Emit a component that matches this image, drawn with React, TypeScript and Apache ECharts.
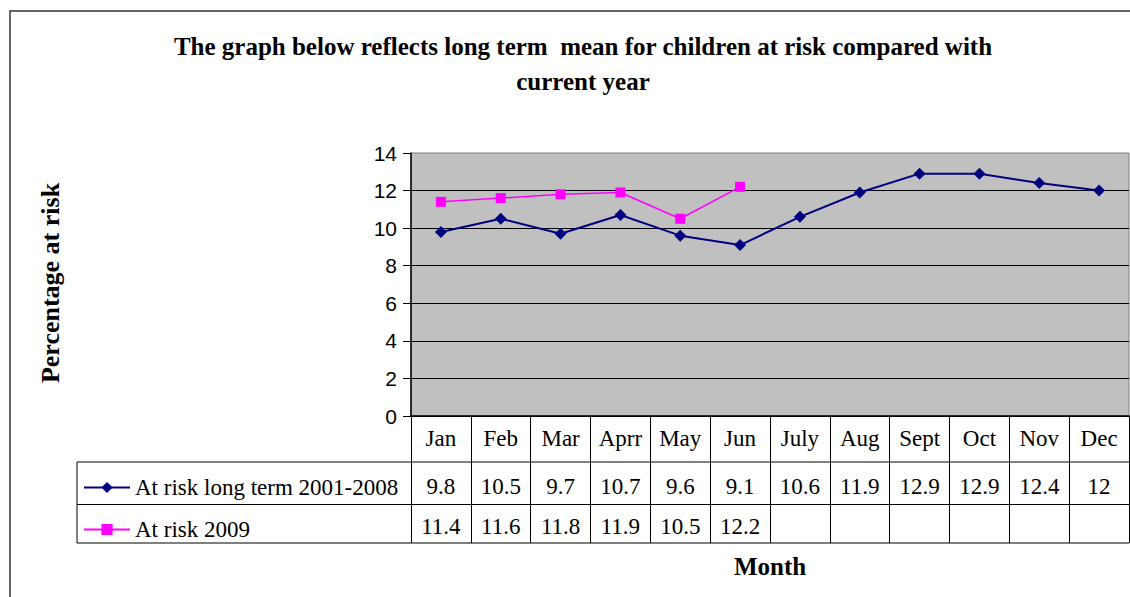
import React, { useEffect, useRef } from "react";
import * as echarts from "echarts";

const chartTitle = "The graph below reflects long term  mean for children at risk compared with\ncurrent year";
const yAxisTitle = "Percentage at risk";
const xAxisTitle = "Month";
const months = ["Jan", "Feb", "Mar", "Aprr", "May", "Jun", "July", "Aug", "Sept", "Oct", "Nov", "Dec"];
const seriesNames = ["At risk long term 2001-2008", "At risk 2009"];
const longTerm = [9.8, 10.5, 9.7, 10.7, 9.6, 9.1, 10.6, 11.9, 12.9, 12.9, 12.4, 12];
const year2009 = [11.4, 11.6, 11.8, 11.9, 10.5, 12.2, null, null, null, null, null, null];
const yMin = 0;
const yMax = 14;
const yStep = 2;

const SERIF = "'Liberation Serif', 'Times New Roman', serif";
const SANS = "'Liberation Sans', Arial, sans-serif";

export default function App() {
  const ref = useRef<HTMLDivElement>(null);
  useEffect(() => {
    if (!ref.current) return;
    const chart = echarts.init(ref.current, undefined, { renderer: "svg" });
    const cellLabel = (arr: (number | null)[]) => (_v: string, i: number) =>
      arr[i] == null ? "" : String(arr[i]);
    const valueAxis = (arr: (number | null)[], margin: number) => ({
      type: "category",
      data: months,
      gridIndex: 0,
      position: "bottom",
      axisLine: { show: false },
      axisTick: { show: false },
      splitLine: { show: false },
      axisLabel: {
        interval: 0,
        margin,
        color: "#000",
        fontFamily: SERIF,
        fontSize: 23,
        formatter: cellLabel(arr),
      },
    });
    chart.setOption({
      animation: false,
      backgroundColor: "#fff",
      title: {
        text: chartTitle,
        left: 578,
        top: 24,
        textAlign: "center",
        textStyle: {
          fontFamily: SERIF,
          fontWeight: "bold",
          fontSize: 25,
          lineHeight: 35,
          color: "#000",
        },
      },
      grid: {
        left: 411,
        top: 153,
        width: 718,
        height: 263,
        show: true,
        backgroundColor: "#C0C0C0",
        borderColor: "#808080",
        borderWidth: 1,
      },
      legend: {
        orient: "vertical",
        left: 83,
        top: 476,
        padding: 0,
        itemWidth: 46,
        itemHeight: 14,
        itemGap: 19,
        data: seriesNames,
        textStyle: { fontFamily: SERIF, fontSize: 23, color: "#000" },
      },
      xAxis: [
        {
          type: "category",
          data: months,
          boundaryGap: true,
          position: "bottom",
          axisLine: { lineStyle: { color: "#000", width: 1.5 } },
          axisTick: { show: true, interval: 0, length: 127, lineStyle: { color: "#000", width: 1 } },
          splitLine: { show: false },
          axisLabel: { interval: 0, margin: 11, color: "#000", fontFamily: SERIF, fontSize: 23 },
        },
        valueAxis(longTerm, 59),
        valueAxis(year2009, 99),
      ],
      yAxis: {
        type: "value",
        min: yMin,
        max: yMax,
        interval: yStep,
        axisLine: { show: true, lineStyle: { color: "#000", width: 1.5 } },
        axisTick: { show: true, length: 8, lineStyle: { color: "#000" } },
        axisLabel: { margin: 14, color: "#000", fontFamily: SANS, fontSize: 21 },
        splitLine: { show: true, showMaxLine: false, lineStyle: { color: "#000", width: 1 } },
      },
      series: [
        {
          name: seriesNames[0],
          type: "line",
          data: longTerm,
          symbol: "diamond",
          symbolSize: 12,
          lineStyle: { color: "#000080", width: 2 },
          itemStyle: { color: "#000080" },
        },
        {
          name: seriesNames[1],
          type: "line",
          data: year2009,
          symbol: "rect",
          symbolSize: 10,
          lineStyle: { color: "#FF00FF", width: 1.5 },
          itemStyle: { color: "#FF00FF" },
        },
      ],
      graphic: [
        {
          type: "rect",
          silent: true,
          shape: { x: 10, y: 11, width: 1300, height: 800 },
          style: { fill: "none", stroke: "#333", lineWidth: 1.5 },
        },
        { type: "line", silent: true, shape: { x1: 77, y1: 462, x2: 1129, y2: 462 }, style: { stroke: "#000", lineWidth: 1 } },
        { type: "line", silent: true, shape: { x1: 77, y1: 504.5, x2: 1129, y2: 504.5 }, style: { stroke: "#000", lineWidth: 1 } },
        { type: "line", silent: true, shape: { x1: 77, y1: 543, x2: 1129, y2: 543 }, style: { stroke: "#000", lineWidth: 1 } },
        { type: "line", silent: true, shape: { x1: 77, y1: 462, x2: 77, y2: 543 }, style: { stroke: "#000", lineWidth: 1 } },
        {
          type: "text",
          silent: true,
          x: 50,
          y: 283,
          rotation: Math.PI / 2,
          style: {
            text: yAxisTitle,
            fontFamily: SERIF,
            fontWeight: "bold",
            fontSize: 26,
            fill: "#000",
            align: "center",
            verticalAlign: "middle",
          },
        },
        {
          type: "text",
          silent: true,
          x: 770,
          y: 566,
          style: {
            text: xAxisTitle,
            fontFamily: SERIF,
            fontWeight: "bold",
            fontSize: 25,
            fill: "#000",
            align: "center",
            verticalAlign: "middle",
          },
        },
      ],
    });
    return () => chart.dispose();
  }, []);
  return (
    <div
      ref={ref}
      style={{ position: "absolute", left: 0, top: 0, width: 1130, height: 597, background: "#fff" }}
    />
  );
}
